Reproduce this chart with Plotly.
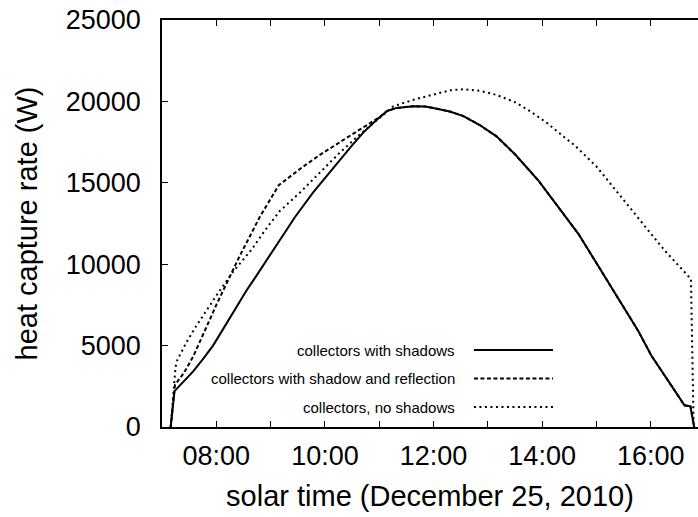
import plotly.graph_objects as go

# ---- data (solar time in decimal hours, heat capture rate in W) ----
t_shadow = [7.16, 7.23, 7.40, 7.57, 7.75, 7.94, 8.15, 8.37, 8.55, 8.74, 9.05, 9.17, 9.45,
            9.78, 10.00, 10.27, 10.50, 10.71, 10.93, 11.14, 11.32, 11.63, 11.85, 12.06,
            12.30, 12.55, 12.85, 13.16, 13.50, 13.94, 14.31, 14.67, 15.03, 15.40, 15.77,
            16.01, 16.26, 16.50, 16.62, 16.73, 16.80]
p_shadow = [0, 2200, 2800, 3400, 4150, 5000, 6150, 7400, 8350, 9300, 10900, 11500, 12900,
            14400, 15300, 16400, 17300, 18100, 18800, 19400, 19600, 19700, 19680, 19550,
            19380, 19100, 18550, 17850, 16750, 15100, 13480, 11850, 9910, 7900, 5900,
            4390, 3170, 1940, 1330, 1270, 0]

t_reflect = [7.16, 7.22, 7.24, 7.40, 7.57, 7.80, 8.00, 8.43, 8.80, 9.15, 9.54, 9.90,
             10.27, 10.64, 11.01, 11.14, 11.32, 11.63, 11.85, 12.06, 12.30, 12.55, 12.85,
             13.16, 13.50, 13.94, 14.31, 14.67, 15.03, 15.40, 15.77, 16.01, 16.26, 16.50,
             16.62, 16.73, 16.80]
p_reflect = [0, 2200, 2600, 3300, 4300, 6000, 7500, 10500, 12900, 14850, 15850, 16700,
             17500, 18300, 19050, 19400, 19600, 19700, 19680, 19550, 19380, 19100, 18550,
             17850, 16750, 15100, 13480, 11850, 9910, 7900, 5900, 4390, 3170, 1940, 1330,
             1270, 0]

t_noshadow = [7.16, 7.22, 7.25, 7.28, 7.45, 7.63, 8.00, 8.30, 8.65, 8.90, 9.17, 9.54,
              9.90, 10.27, 10.64, 11.01, 11.26, 11.63, 12.06, 12.30, 12.55, 12.85, 13.16,
              13.50, 13.78, 14.10, 14.39, 14.60, 14.80, 15.00, 15.16, 15.53, 15.90, 16.26,
              16.63, 16.74, 16.79]
p_noshadow = [0, 2200, 3700, 4100, 5200, 6200, 8070, 9500, 10900, 12100, 13270, 14400,
              15620, 16840, 17960, 18980, 19700, 20100, 20500, 20680, 20750, 20650, 20400,
              19950, 19400, 18650, 17850, 17300, 16650, 16000, 15350, 13800, 12300, 10830,
              9450, 9090, 0]

series_names = ["collectors with shadows",
                "collectors with shadow and reflection",
                "collectors, no shadows"]

x_tickvals = [7, 8, 9, 10, 11, 12, 13, 14, 15, 16]
x_ticktext = ["", "08:00", "", "10:00", "", "12:00", "", "14:00", "", "16:00"]
y_tickvals = [0, 5000, 10000, 15000, 20000, 25000]
y_ticktext = ["0", "5000", "10000", "15000", "20000", "25000"]

FONT = "Liberation Sans, Arial, sans-serif"
dashes = ["solid", "4px,2.5px", "2px,3.5px"]

fig = go.Figure()
data = [(t_shadow, p_shadow), (t_reflect, p_reflect), (t_noshadow, p_noshadow)]
# draw reflection first, then no-shadow, then shadow on top
for idx in [1, 2, 0]:
    tx, py = data[idx]
    fig.add_trace(go.Scatter(x=tx, y=py, mode="lines", name=series_names[idx],
                             line=dict(color="black", width=2, dash=dashes[idx]),
                             showlegend=False))

# custom gnuplot-style key (text right aligned, line sample on the right)
key_y = [0.189, 0.119, 0.049]
for i, name in enumerate(series_names):
    fig.add_annotation(x=0.5504, y=key_y[i], xref="paper", yref="paper", text=name,
                       showarrow=False, xanchor="right", yanchor="middle",
                       font=dict(family=FONT, size=15, color="black"))
    fig.add_shape(type="line", xref="paper", yref="paper", x0=0.582, x1=0.7295,
                  y0=key_y[i], y1=key_y[i],
                  line=dict(color="black", width=2, dash=dashes[i]))

fig.update_layout(
    width=698, height=517,
    margin=dict(l=162, r=0, t=20, b=90),
    paper_bgcolor="white", plot_bgcolor="white",
    font=dict(family=FONT, size=27, color="black"),
    xaxis=dict(range=[7, 16.87], tickvals=x_tickvals, ticktext=x_ticktext,
               ticks="inside", ticklen=6, tickwidth=1, tickcolor="black",
               ticklabelstandoff=4,
               showline=True, linecolor="black", linewidth=1.5, mirror="ticks",
               showgrid=False, zeroline=False,
               title=dict(text="solar time (December 25, 2010)", standoff=16,
                          font=dict(size=29))),
    yaxis=dict(range=[0, 25000], tickvals=y_tickvals, ticktext=y_ticktext,
               ticks="inside", ticklen=6, ticklabelstandoff=14,
               tickwidth=1, tickcolor="black", showline=True, linecolor="black",
               linewidth=1.5, showgrid=False, zeroline=False,
               title=dict(text="heat capture rate (W)", standoff=20,
                          font=dict(size=29))),
)

fig.write_html("out.html")
